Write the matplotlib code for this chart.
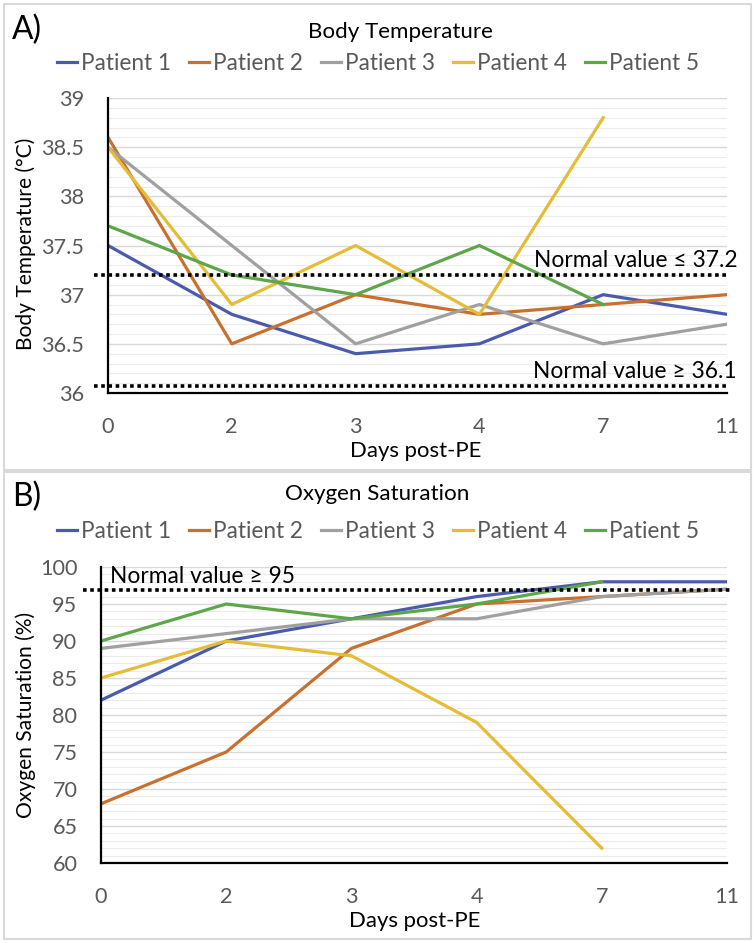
import matplotlib
matplotlib.use("Agg")
import matplotlib.pyplot as plt
from matplotlib.patches import Rectangle
from matplotlib.ticker import MultipleLocator

plt.rcParams['font.family'] = ['Lato', 'DejaVu Sans']

days = ['0', '2', '3', '4', '7', '11']
patients = ['Patient 1', 'Patient 2', 'Patient 3', 'Patient 4', 'Patient 5']
colors = ['#4A5BAE', '#C8702F', '#A0A0A0', '#E5BC35', '#5DA64A']

temp_p1 = [37.5, 36.8, 36.4, 36.5, 37.0, 36.8]
temp_p2 = [38.6, 36.5, 37.0, 36.8, 36.9, 37.0]
temp_p3 = [38.5, 37.5, 36.5, 36.9, 36.5, 36.7]
temp_p4 = [38.5, 36.9, 37.5, 36.8, 38.8]
temp_p5 = [37.7, 37.2, 37.0, 37.5, 36.9]
temp_upper = 37.2
temp_lower = 36.07

spo2_p1 = [82, 90, 93, 96, 98, 98]
spo2_p2 = [68, 75, 89, 95, 96, 97]
spo2_p3 = [89, 91, 93, 93, 96, 97]
spo2_p4 = [85, 90, 88, 79, 62]
spo2_p5 = [90, 95, 93, 95, 98]
spo2_lower = 96.9

W, H = 755, 943
fig = plt.figure(figsize=(W / 100, H / 100), dpi=100)
renderer = fig.canvas.get_renderer()


def fx(px):
    return px / W


def fy(py):
    return 1 - py / H


def fitted_size(s, target, vertical=False, base=14):
    t = fig.text(0, 0, s, fontsize=base, rotation=90 if vertical else 0)
    bb = t.get_window_extent(renderer)
    t.remove()
    ext = bb.height if vertical else bb.width
    return base * target / ext


FS_TICK = fitted_size('38.5', 43)
FS_LEG = fitted_size('Patient 1', 90)
FS_TITLE = fitted_size('Body Temperature', 185)
FS_XLAB = fitted_size('Days post-PE', 132)
FS_YLAB = fitted_size('Body Temperature (°C)', 213, vertical=True)
FS_NORM = fitted_size('Normal value ≤ 37.2', 204)
FS_PANEL = fitted_size('B)', 29)

# panel borders
for (x0, y0, x1, y1) in [(4, 4, 751, 470), (4, 472, 751, 939)]:
    fig.patches.append(Rectangle((fx(x0), fy(y1)), fx(x1 - x0), (y1 - y0) / H,
                                 transform=fig.transFigure, fill=False,
                                 edgecolor='#d9d9d9', lw=1.5))


def make_axes(left, right, top, bottom):
    return fig.add_axes([fx(left), fy(bottom), fx(right - left), (bottom - top) / H])


def style(ax, ymin, ymax, major, minor):
    ax.set_xlim(0, len(days) - 1)
    ax.set_ylim(ymin, ymax)
    ax.set_xticks(range(len(days)))
    ax.set_xticklabels(days)
    ax.yaxis.set_major_locator(MultipleLocator(major))
    ax.yaxis.set_minor_locator(MultipleLocator(minor))
    ax.grid(axis='y', which='major', color='#d9d9d9', lw=1.0, zorder=0)
    ax.grid(axis='y', which='minor', color='#ececec', lw=0.8, zorder=0)
    ax.set_axisbelow(True)
    for s in ['top', 'right']:
        ax.spines[s].set_visible(False)
    for s in ['left', 'bottom']:
        ax.spines[s].set_color('black')
        ax.spines[s].set_linewidth(1.6)
        ax.spines[s].set_zorder(5)
    ax.tick_params(axis='both', which='both', length=0, labelsize=FS_TICK,
                   labelcolor='#595959', pad=17)


def add_legend(ax, ycenter):
    h, l = ax.get_legend_handles_labels()
    fpx = FS_LEG * 100 / 72
    fig.legend(h, l, loc='center', bbox_to_anchor=(fx(378), fy(ycenter)), ncol=5,
               frameon=False, fontsize=FS_LEG, handlelength=20 / fpx,
               handletextpad=4 / fpx, columnspacing=18 / fpx,
               labelcolor='#595959', borderpad=0, borderaxespad=0)


# ---------- Panel A ----------
axA = make_axes(108, 727, 98, 393)
temp_series = [temp_p1, temp_p2, temp_p3, temp_p4, temp_p5]
for vals, c, lab in zip(temp_series, colors, patients):
    axA.plot(range(len(vals)), vals, color=c, lw=2.3, label=lab, zorder=3)
style(axA, 36, 39, 0.5, 0.1)
axA.set_yticks([36, 36.5, 37, 37.5, 38, 38.5, 39])
axA.set_yticklabels(['36', '36.5', '37', '37.5', '38', '38.5', '39'])
for yv in [temp_upper, temp_lower]:
    axA.plot([-0.11, 5.0], [yv, yv], color='black', lw=2.6, ls=(0, (1, 1)),
             clip_on=False, zorder=4)
axA.text(3.44, temp_upper + 0.04, 'Normal value ≤ 37.2', fontsize=FS_NORM,
         color='black', va='bottom', ha='left')
axA.text(3.43, temp_lower + 0.04, 'Normal value ≥ 36.1', fontsize=FS_NORM,
         color='black', va='bottom', ha='left')

fig.text(fx(400), fy(32), 'Body Temperature', fontsize=FS_TITLE, ha='center', va='center', color='black')
fig.text(fx(12), fy(30), 'A)', fontsize=FS_PANEL, ha='left', va='center', color='black')
fig.text(fx(26), fy(244), 'Body Temperature (°C)', fontsize=FS_YLAB, rotation=90,
         ha='center', va='center', color='black')
fig.text(fx(416), fy(451), 'Days post-PE', fontsize=FS_XLAB, ha='center', va='center', color='black')
add_legend(axA, 63)

# ---------- Panel B ----------
axB = make_axes(101, 727, 567, 863)
spo2_series = [spo2_p1, spo2_p2, spo2_p3, spo2_p4, spo2_p5]
for vals, c, lab in zip(spo2_series, colors, patients):
    axB.plot(range(len(vals)), vals, color=c, lw=2.3, label=lab, zorder=3)
style(axB, 60, 100, 5, 1)
axB.plot([-0.14, 5.04], [spo2_lower, spo2_lower], color='black', lw=2.6,
         ls=(0, (1, 1)), clip_on=False, zorder=4)
axB.text(0.07, spo2_lower + 0.4, 'Normal value ≥ 95', fontsize=FS_NORM,
         color='black', va='bottom', ha='left')

fig.text(fx(377), fy(494), 'Oxygen Saturation', fontsize=FS_TITLE, ha='center', va='center', color='black')
fig.text(fx(12), fy(497), 'B)', fontsize=FS_PANEL, ha='left', va='center', color='black')
fig.text(fx(26), fy(715), 'Oxygen Saturation (%)', fontsize=FS_YLAB, rotation=90,
         ha='center', va='center', color='black')
fig.text(fx(415), fy(921), 'Days post-PE', fontsize=FS_XLAB, ha='center', va='center', color='black')
add_legend(axB, 531)

fig.savefig('out.png', dpi=100, facecolor='white')
